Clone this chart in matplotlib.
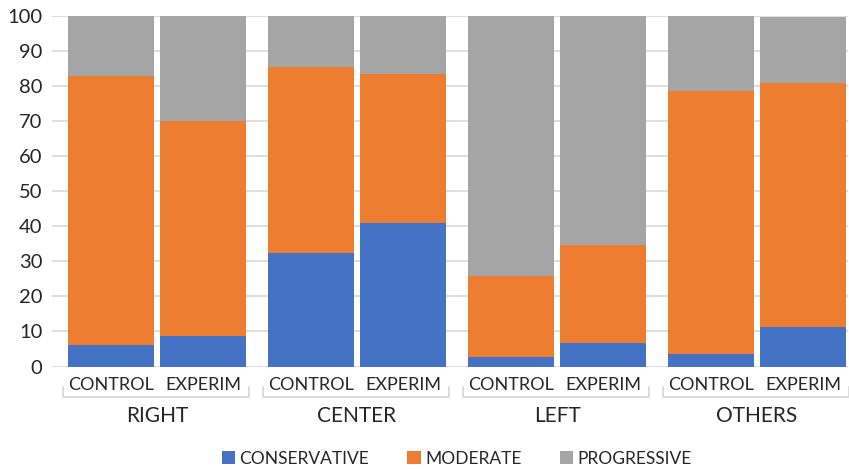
import matplotlib
matplotlib.use("Agg")
import matplotlib.pyplot as plt
from matplotlib.patches import Patch
from matplotlib import transforms
import numpy as np

plt.rcParams['font.family'] = ['Lato', 'DejaVu Sans']

groups = ["RIGHT", "CENTER", "LEFT", "OTHERS"]
conditions = ["CONTROL", "EXPERIM"]
series = ["CONSERVATIVE", "MODERATE", "PROGRESSIVE"]

# shares per bar, ordered RIGHT-CONTROL, RIGHT-EXPERIM, CENTER-CONTROL, ...
conservative = [6.2, 8.7, 32.4, 40.9, 2.8, 6.6, 3.6, 11.3]
moderate = [76.6, 61.3, 53.0, 42.6, 23.1, 28.1, 75.0, 69.5]
progressive = [17.2, 30.0, 14.6, 16.8, 74.1, 65.3, 21.4, 18.9]

colors = ["#4472C4", "#ED7D31", "#A5A5A5"]
text_color = "#262626"
grid_color = "#D9D9D9"

fig = plt.figure(figsize=(8.49, 4.70), dpi=100)
ax = fig.add_axes([52 / 849, (470 - 366.5) / 470, (848 - 52) / 849, 350.5 / 470])

offset = 0.23
width = 0.43
x = np.array([g + s for g in range(len(groups)) for s in (-offset, offset)])

bottom = np.zeros(len(x))
for vals, col, name in zip([conservative, moderate, progressive], colors, series):
    ax.bar(x, vals, width=width, bottom=bottom, color=col, label=name, zorder=3)
    bottom += np.array(vals)

ax.set_ylim(0, 100)
ax.set_xlim(-0.525, 3.455)
ax.set_yticks(range(0, 101, 10))
ax.yaxis.grid(True, color=grid_color, linewidth=1.2, zorder=0)
ax.set_axisbelow(True)
for sp in ax.spines.values():
    sp.set_visible(False)
ax.tick_params(axis='y', length=0, pad=7, labelsize=14.5, labelcolor=text_color)
ax.tick_params(axis='x', length=0, labelbottom=False)

# two-level category axis
tr = transforms.blended_transform_factory(ax.transData, fig.transFigure)
y_sub = (470 - 384.5) / 470
y_grp = (470 - 416.5) / 470
y_br_top = (470 - 387) / 470
y_br_bot = (470 - 397) / 470
for gi, g in enumerate(groups):
    for si, s in enumerate((-offset, offset)):
        ax.text(gi + s, y_sub, conditions[si], transform=tr, ha='center', va='center',
                fontsize=13, color=text_color, clip_on=False)
    ax.text(gi, y_grp, g, transform=tr, ha='center', va='center',
            fontsize=15, color=text_color, clip_on=False)
    l, r = gi - 0.47, gi + 0.46
    ax.plot([l, l, r, r], [y_br_top, y_br_bot, y_br_bot, y_br_top], transform=tr,
            color=grid_color, linewidth=1.3, clip_on=False)

handles = [Patch(facecolor=c, edgecolor='none') for c in colors]
fig.legend(handles, series, loc='center', bbox_to_anchor=(0.538, (470 - 458.5) / 470),
           ncol=3, frameon=False, fontsize=12.5, handlelength=0.78, handleheight=0.78,
           handletextpad=0.25, columnspacing=2.2, labelcolor=text_color)

fig.savefig("out.png", dpi=100)
